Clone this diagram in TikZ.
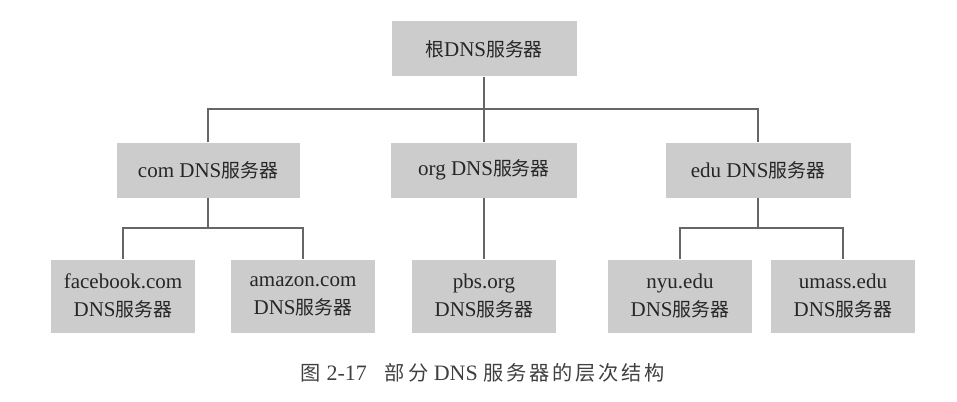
\documentclass[tikz,border=0pt]{standalone}
\usepackage{fontspec}
\usepackage{tikz}
\setmainfont{Liberation Serif}
\newfontfamily\cjk{Noto Sans CJK SC}[Scale=0.9]
\newfontfamily\cjkcap{Noto Sans CJK SC}[Scale=0.92,LetterSpace=14]
\newcommand{\fwq}{{\cjk 服务器}}

\begin{document}
\begin{tikzpicture}[x=1pt, y=-1pt,
                    box/.style={fill=black!20, text=black!85, align=center, inner sep=0pt,
                                minimum width=185pt, minimum height=55pt,
                                font=\fontsize{21}{28}\selectfont},
                    leaf/.style={box, minimum width=144pt, minimum height=73pt},
                    link/.style={draw=black!60, line width=1.5pt}]
  \useasboundingbox (0,0) rectangle (957,401);
  \node[box] (root) at (484,49) {{\cjk 根}DNS\fwq};

  \node[box, minimum width=183pt] (com) at (208,170) {com DNS\fwq};
  \node[box, minimum width=186pt] (org) at (484,170) {org DNS\fwq};
  \node[box] (edu) at (758,170) {edu DNS\fwq};

  \node[leaf] (facebook) at (123,296) {facebook.com\\DNS\fwq};
  \node[leaf] (amazon) at (303,296) {amazon.com\\DNS\fwq};
  \node[leaf] (pbs) at (484,296) {pbs.org\\DNS\fwq};
  \node[leaf] (nyu) at (680,296) {nyu.edu\\DNS\fwq};
  \node[leaf] (umass) at (843,296) {umass.edu\\DNS\fwq};

  \coordinate (rootbus) at (484,109);
  \coordinate (combus) at (208,228);
  \coordinate (edubus) at (758,228);

  \draw[link] (root) -- (org);
  \draw[link] (com.north) |- (rootbus) -| (edu.north);
  \draw[link] (com) -- (combus);
  \draw[link] (facebook.north) |- (combus) -| (amazon.north);
  \draw[link] (org) -- (pbs);
  \draw[link] (edu) -- (edubus);
  \draw[link] (nyu.north) |- (edubus) -| (umass.north);

  \node[text=black!75, font=\fontsize{22}{24}\selectfont] (caption) at (483,373)
    {{\cjkcap 图} 2-17\hspace{18pt}{\cjkcap 部分} DNS {\cjkcap 服务器的层次结构}};
\end{tikzpicture}
\end{document}
